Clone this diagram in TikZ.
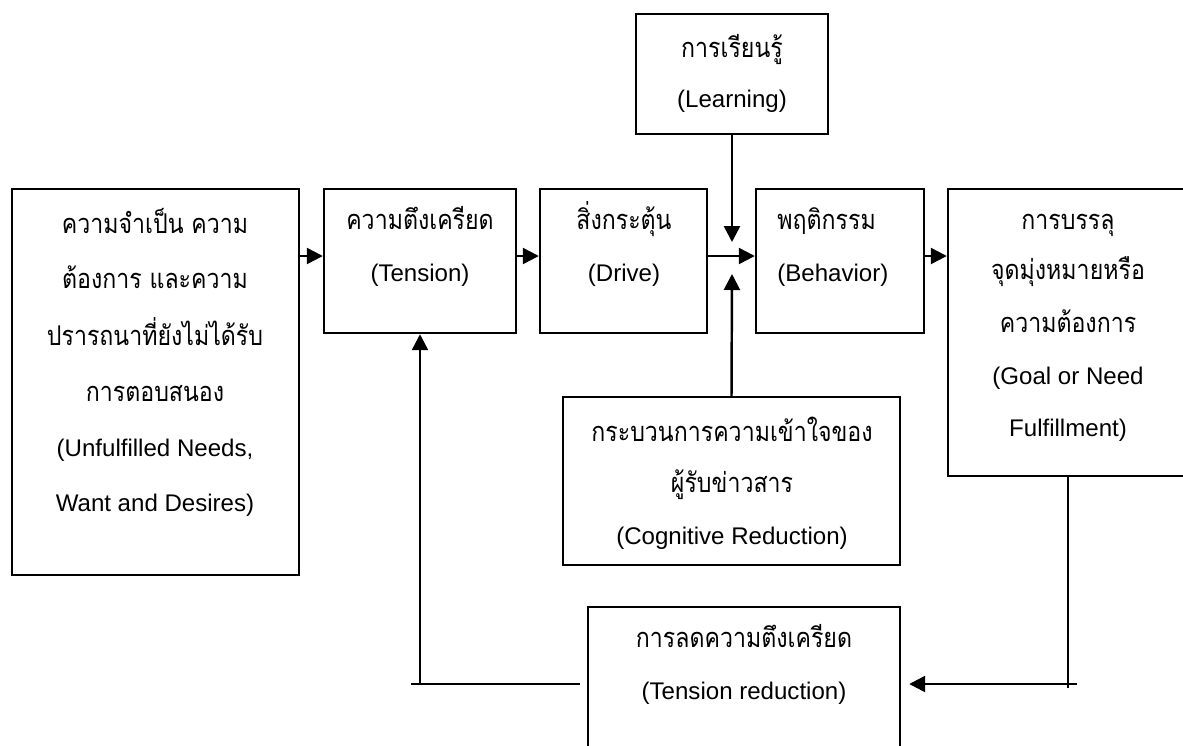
\documentclass[tikz,border=0pt]{standalone}
\usepackage{fontspec}
\setmainfont{Liberation Sans}
\newfontfamily\thaifont[Script=Thai,FakeStretch=0.85]{Loma}
\usetikzlibrary{arrows.meta}
\begin{document}
\begin{tikzpicture}[x=0.02cm,y=-0.02cm,
  box/.style={draw,line width=1.4pt,rectangle,inner sep=0pt},
  en/.style={font=\fontsize{13.7}{16}\selectfont,anchor=mid,inner sep=0pt},
  th/.style={font=\thaifont\fontsize{15.5}{16}\selectfont,anchor=mid,inner sep=0pt},
  conn/.style={line width=1.4pt},
  arr/.style={line width=1.4pt,-{Triangle[length=0.32cm,width=0.32cm]}}]
\useasboundingbox (0,0) rectangle (1183,745);
% boxes
\node[box,minimum width=3.84cm,minimum height=2.4cm] (learn) at (732,74) {};
\node[box,minimum width=5.74cm,minimum height=7.72cm] (needs) at (155.5,382) {};
\node[box,minimum width=3.84cm,minimum height=2.88cm] (tension) at (420,261) {};
\node[box,minimum width=3.34cm,minimum height=2.88cm] (drive) at (623.5,261) {};
\node[box,minimum width=3.36cm,minimum height=2.88cm] (behav) at (840,261) {};
\node[box,minimum width=4.9cm,minimum height=5.74cm] (goal) at (1070.5,332.5) {};
\node[box,minimum width=6.74cm,minimum height=3.36cm] (cog) at (731.5,481) {};
\node[box,minimum width=6.24cm,minimum height=3.06cm] (tred) at (744,683.5) {};
% texts
\node[th] (learnA) at (732,53) {การเรียนรู้};
\node[en] (learnB) at (732,103) {(Learning)};
\node[th] (needsA) at (155,229) {ความจำเป็น ความ};
\node[th] (needsB) at (155,284) {ต้องการ และความ};
\node[th] (needsC) at (155,341) {ปรารถนาที่ยังไม่ได้รับ};
\node[th] (needsD) at (155,397) {การตอบสนอง};
\node[en] (needsE) at (155,452) {(Unfulfilled Needs,};
\node[en] (needsF) at (155,507) {Want and Desires)};
\node[th] (tensionA) at (420,225) {ความตึงเครียด};
\node[en] (tensionB) at (420,277) {(Tension)};
\node[th] (driveA) at (624,225) {สิ่งกระตุ้น};
\node[en] (driveB) at (624,277) {(Drive)};
\node[th,anchor=mid west] (behavA) at (777,225) {พฤติกรรม};
\node[en,anchor=mid west] (behavB) at (777,277) {(Behavior)};
\node[th] (goalA) at (1068,225) {การบรรลุ};
\node[th] (goalB) at (1068,275) {จุดมุ่งหมายหรือ};
\node[th] (goalC) at (1068,328) {ความต้องการ};
\node[en] (goalD) at (1068,380) {(Goal or Need};
\node[en] (goalE) at (1068,432) {Fulfillment)};
\node[th] (cogA) at (732,437) {กระบวนการความเข้าใจของ};
\node[th] (cogB) at (732,488) {ผู้รับข่าวสาร};
\node[en] (cogC) at (732,540) {(Cognitive Reduction)};
\node[th] (tredA) at (744,643) {การลดความตึงเครียด};
\node[en] (tredB) at (744,695) {(Tension reduction)};
% coordinates
\coordinate (rowA) at (0,256);
\coordinate (learnTip) at (732,242);
\coordinate (cogTip) at (732,274);
\coordinate (goalDown) at (1068,688);
\coordinate (rightStart) at (1077,684);
\coordinate (leftStart) at (580,684);
\coordinate (leftEnd) at (411,684);
\coordinate (leftRise) at (420,684);
% connectors
\draw[arr] (needs.east |- rowA) -- (tension.west |- rowA);
\draw[arr] (tension.east |- rowA) -- (drive.west |- rowA);
\draw[arr] (drive.east |- rowA) -- (behav.west |- rowA);
\draw[arr] (behav.east |- rowA) -- (goal.west |- rowA);
\draw[arr] (learn.south) -- (learnTip);
\draw[arr] (cog.north) -- (cogTip);
\draw[conn] (goal.south -| goalDown) -- (goalDown);
\draw[arr,shorten >=0.16cm] (rightStart) -- (tred.east |- rightStart);
\draw[conn] (leftStart) -- (leftEnd);
\draw[arr] (leftRise) -- (tension.south);
\end{tikzpicture}
\end{document}
